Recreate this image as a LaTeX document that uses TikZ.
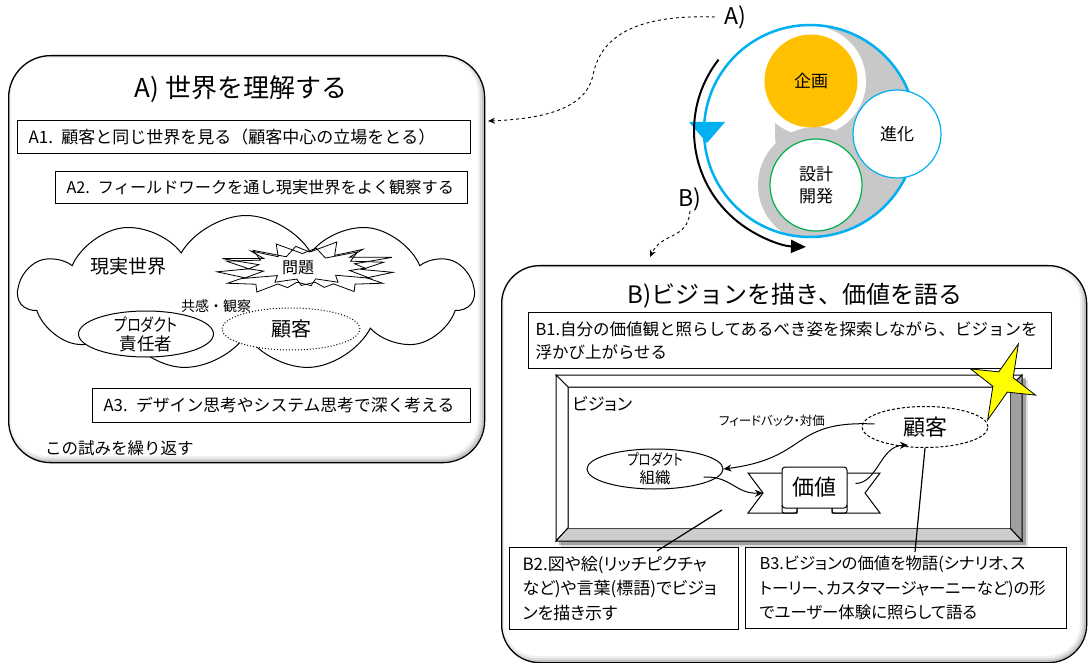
\documentclass[tikz,border=0pt]{standalone}
\usepackage{fontspec}
\usepackage{graphicx}
\setmainfont{Noto Sans CJK JP}
\newfontfamily\uifont{Noto Sans CJK JP}[RawFeature=+palt]
\usetikzlibrary{shapes.symbols,shapes.geometric,arrows.meta,calc}
\definecolor{msblue}{RGB}{0,176,240}
\definecolor{msorange}{RGB}{255,192,0}
\definecolor{msgreen}{RGB}{0,176,80}
\definecolor{ringgray}{RGB}{200,200,200}
\definecolor{bevdark}{RGB}{160,160,160}
\definecolor{bevlight}{RGB}{205,205,205}
\definecolor{staryellow}{RGB}{255,255,0}
\newcommand{\fz}[2]{\fontsize{#1}{#2}\selectfont}
\newcommand{\narrow}[1]{\scalebox{0.8}[1]{#1}}
\tikzset{
 panel/.style={draw, line width=1.3pt, inner sep=0pt, anchor=north west},
 tbox/.style={draw, line width=1pt, fill=white, anchor=north west, inner xsep=11pt, inner ysep=0pt, align=left},
 ell/.style={ellipse, draw, line width=1pt, fill=white, inner sep=0pt},
 lbl/.style={inner sep=0pt, align=center},
 dasharrow/.style={dashed, line width=0.9pt, -{Stealth[length=7pt,width=6pt]}},
 conn/.style={line width=1pt, -{Stealth[length=8pt,width=7pt]}},
 edgeline/.style={line width=1.2pt},
 expl/.style={draw, line width=0.8pt, line join=miter},
}
\begin{document}
\begin{tikzpicture}[x=1pt,y=-1pt]
\useasboundingbox (0,0) rectangle (1090,663);
\fill[white] (0,0) rectangle (1090,663);
% ---------- Panel A
\begin{scope}
\clip[rounded corners=42pt] (8,55) rectangle (484,462);
\foreach \w/\o in {12/0.06,8/0.08,4/0.12}{\draw[black,opacity=\o,line width=\w pt,rounded corners=42pt] (5,52) rectangle (484,462);}
\end{scope}
\node[panel, rounded corners=42pt, minimum width=476pt, minimum height=407pt] (pA) at (8,55) {};
\node[lbl, font=\fz{26}{30}] (tA) at (241,89) {A) 世界を理解する};
\node[tbox, text width=431pt, minimum height=33pt, font=\fz{17}{20}] (a1) at (17,120) {A1. 顧客と同じ世界を見る（顧客中心の立場をとる）};
\node[tbox, text width=390pt, minimum height=32pt, font=\fz{16.2}{20}] (a2) at (55,171) {A2. フィールドワークを通し現実世界をよく観察する};
% cloud
\node[cloud, draw, line width=1pt, fill=white, cloud puffs=11, cloud puff arc=120, aspect=2.9, minimum width=455pt, minimum height=155pt, inner sep=0pt] (cl) at (246,293) {};
\node[lbl, font=\fz{19}{22}] (gen) at (128,266) {現実世界};
% explosion (two overlapping outlines)
\begin{scope}[shift={(217,242)}, x=0.81pt, y=-0.2315pt]
\draw[expl, fill=white] (114.62,43.42) -- (147.90,0) -- (145.25,57.77) -- (180.07,31.72) -- (163.80,65.32) -- (216,66.45) -- (169.85,94.02) -- (182.70,112.90) -- (163.80,123.10) -- (188.77,156.32) -- (146.40,143.50) -- (149.42,173.70) -- (121.80,159.35) -- (116.12,188.42) -- (98.72,173.70) -- (87.00,197.12) -- (75.27,181.25) -- (49.17,216) -- (48.05,182.40) -- (12.85,178.25) -- (33.30,153.70) -- (0,128.77) -- (39.35,115.92) -- (11.72,82.70) -- (53.72,78.17) -- (45.02,36.25) -- (85.50,63.82) -- (97.22,18.87) -- cycle;
\end{scope}
\begin{scope}[shift={(393,244)}, x=-0.79pt, y=-0.22pt]
\draw[expl] (114.62,43.42) -- (147.90,0) -- (145.25,57.77) -- (180.07,31.72) -- (163.80,65.32) -- (216,66.45) -- (169.85,94.02) -- (182.70,112.90) -- (163.80,123.10) -- (188.77,156.32) -- (146.40,143.50) -- (149.42,173.70) -- (121.80,159.35) -- (116.12,188.42) -- (98.72,173.70) -- (87.00,197.12) -- (75.27,181.25) -- (49.17,216) -- (48.05,182.40) -- (12.85,178.25) -- (33.30,153.70) -- (0,128.77) -- (39.35,115.92) -- (11.72,82.70) -- (53.72,78.17) -- (45.02,36.25) -- (85.50,63.82) -- (97.22,18.87) -- cycle;
\end{scope}
\node[lbl, fill=white, inner sep=1pt, font=\fz{16}{20}] (mondai) at (298,268) {問題};
\node[ell, minimum width=135pt, minimum height=46pt] (pm) at (146,334) {};
\node[lbl, font=\uifont\fz{17.5}{19}] (pmt) at (pm) {\narrow{プロダクト}\\責任者};
\node[ell, dotted, minimum width=138pt, minimum height=42pt] (kk1) at (291,329) {};
\node[lbl, font=\fz{20}{22}] (kk1t) at (kk1) {顧客};
\node[lbl, font=\fz{14}{16}] (kyo) at (216,306) {共感・観察};
\node[tbox, text width=356pt, minimum height=34pt, font=\fz{16.8}{20}] (a3) at (92,388) {A3. デザイン思考やシステム思考で深く考える};
\node[lbl, font=\fz{16.5}{19}, anchor=west] (rep) at (45,448) {この試みを繰り返す};
% ---------- Cycle
\coordinate (cc) at (810,131);
\fill[white] (cc) circle (106);
\begin{scope}
\clip (cc) circle (106);
\fill[ringgray] (900,131) circle (125);
\fill[white] (811,81) circle (55);
\fill[ringgray] (816,185) circle (58);
\end{scope}
\fill[msblue] (689,122) -- (725,122) -- (707,143) -- cycle;
\draw[msblue, line width=2.5pt] (cc) circle (106);
\draw[line width=2pt, -{Triangle[length=15pt,width=13pt]}] ($(cc)+(218:116)$) arc[start angle=218, end angle=92, radius=116];
\node[circle, fill=msorange, minimum size=93pt, inner sep=0pt, font=\fz{17}{20}] (kikaku) at (811,81) {企画};
\node[circle, draw=msgreen, line width=1.2pt, fill=white, minimum size=92pt, inner sep=0pt, align=center, font=\fz{17}{22}] (sekkei) at (816,185) {設計\\開発};
\node[circle, draw=msblue, line width=1.2pt, fill=white, minimum size=88pt, inner sep=0pt, font=\fz{17}{20}] (shinka) at (897,134) {進化};
\node[lbl, font=\fz{23}{26}] (la) at (735,17) {A)};
\node[lbl, font=\fz{23}{26}] (lb) at (690,199) {B)};
\coordinate (pAin) at (488,121);
\draw[dasharrow] ([xshift=-9pt]la.west) .. controls (630,14) and (600,40) .. (593,75) .. controls (586,110) and (540,119) .. (pAin);
\coordinate (pBin) at (650,257);
\draw[dasharrow] (lb.south) .. controls (688,240) and (662,232) .. (pBin);
% ---------- Panel B
\begin{scope}
\clip[rounded corners=38pt] (501,265) rectangle (1086,662);
\foreach \w/\o in {12/0.06,8/0.08,4/0.12}{\draw[black,opacity=\o,line width=\w pt,rounded corners=38pt] (498,262) rectangle (1086,662);}
\end{scope}
\node[panel, rounded corners=38pt, minimum width=585pt, minimum height=397pt] (pB) at (501,265) {};
\node[lbl, font=\fz{24}{28}] (tB) at (795,296) {B)ビジョンを描き、価値を語る};
\node[tbox, text width=509pt, minimum height=56pt, inner xsep=7pt, font=\fz{16.5}{23}] (b1) at (528,312) {B1.自分の価値観と照らしてあるべき姿を探索しながら、ビジョンを\\浮かび上がらせる};
% vision frame
\foreach \o in {0.10,0.10,0.10}{\fill[black,opacity=\o] (559,378) rectangle (1026,545);}
\fill[black,opacity=0.12] (561,380) rectangle (1028,547);
\draw[line width=1pt, fill=white] (556,375) -- (1022,375) -- (1010,387) -- (568,387) -- cycle;
\draw[line width=1pt, fill=white] (556,375) -- (568,387) -- (568,528) -- (556,541) -- cycle;
\draw[line width=1pt, fill=bevdark] (1022,375) -- (1022,541) -- (1010,528) -- (1010,387) -- cycle;
\draw[line width=1pt, fill=bevlight] (556,541) -- (1022,541) -- (1010,528) -- (568,528) -- cycle;
\fill[white] (568.5,387.5) rectangle (1009.5,527.5);
\node[lbl, font=\uifont\fz{17}{20}, anchor=west] (vis) at (572,404) {ビジョン};
\node[lbl, font=\uifont\fz{12.5}{15}] (fb) at (772,421) {フィードバック・対価};
\node[ell, minimum width=136pt, minimum height=40pt] (pOrg) at (655,469) {};
\node[lbl, font=\uifont\fz{15.5}{18}] (pOrgt) at (pOrg) {\narrow{プロダクト}\\組織};
\node[ell, dashed, dash pattern=on 3pt off 2pt, minimum width=126pt, minimum height=41pt] (kk2) at (925,427) {};
\node[lbl, font=\fz{22}{24}] (kk2t) at (kk2) {顧客};
% ribbon
\draw[line width=1pt, fill=white] (748,473) -- (797,473) -- (797,513) -- (748,513) -- (763,493) -- cycle;
\draw[line width=1pt, fill=white] (880,473) -- (832,473) -- (832,513) -- (880,513) -- (865,493) -- cycle;
\draw[line width=1pt, rounded corners=2pt] (782,505) -- (782,513) -- (797,513) -- (797,508);
\draw[line width=1pt, rounded corners=2pt] (832,508) -- (832,513) -- (847,513) -- (847,505);
\node[draw, line width=1pt, fill=white, rounded corners=3pt, minimum width=65pt, minimum height=41pt, inner sep=0pt, font=\fz{22}{24}] (kachi) at (814.5,487.5) {価値};
\coordinate (notchL) at (763,493);
\draw[conn] ($(kk2.west)+(13,-3)$) .. controls (790,420) and (810,458) .. (pOrg.east);
\draw[conn] ($(pOrg.east)+(-20,8)$) .. controls (732,476) and (735,494) .. (notchL);
\draw[conn] ($(kachi.east)+(8,-4)$) .. controls (878,483) and (880,446) .. ($(kk2.south)+(-17,-3)$);
% star
\coordinate (sc) at (1003,382);
\draw[line width=0.8pt, fill=staryellow] ($(sc)+(-68:41)$) -- ($(sc)+(-23:11)$) -- ($(sc)+(22:35)$) -- ($(sc)+(67:11)$) -- ($(sc)+(112:41)$) -- ($(sc)+(157:11)$) -- ($(sc)+(202:35)$) -- ($(sc)+(247:11)$) -- cycle;
% bottom boxes
\node[tbox, text width=203pt, minimum height=82pt, inner xsep=13pt, font=\uifont\fz{17}{24.5}] (b2) at (509,547) {B2.図や絵(リッチピクチャ\\など)や言葉(標語)でビジョ\\ンを描き示す};
\node[tbox, text width=293pt, minimum height=81pt, inner xsep=14pt, font=\uifont\fz{16.4}{24.5}] (b3) at (745,547) {B3.ビジョンの価値を物語(シナリオ、ス\\トーリー、カスタマージャーニーなど)の形\\でユーザー体験に照らして語る};
\coordinate (v1) at (722,510);
\draw[edgeline] (v1) -- ($(b2.north west)+(148,4)$);
\draw[edgeline] (kk2.south) -- ($(b3.north west)+(170,5)$);
\end{tikzpicture}
\end{document}
